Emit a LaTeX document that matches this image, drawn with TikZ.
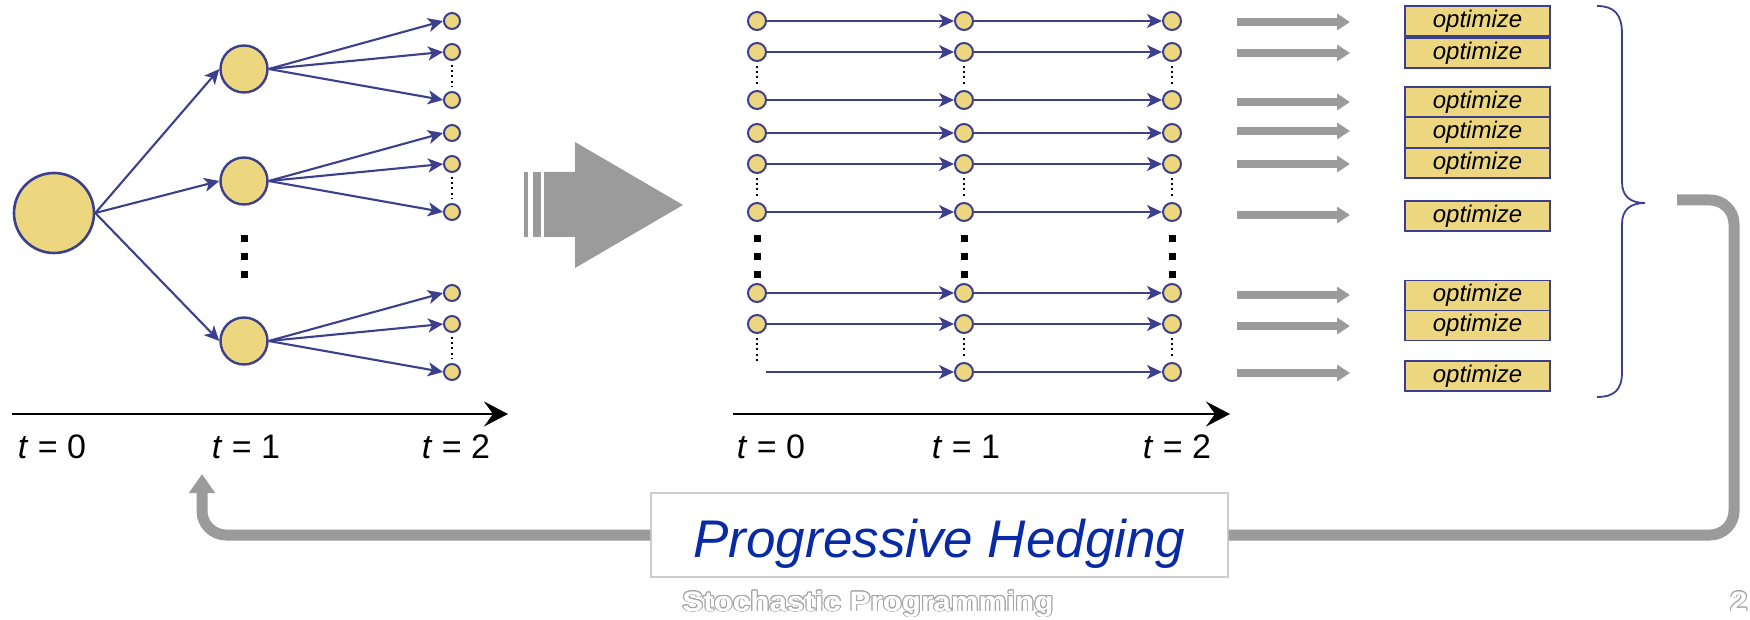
\documentclass[tikz,border=0pt]{standalone}
\usepackage{fontspec}
\setmainfont{Liberation Sans}
\usepackage[copies]{contour}
\contourlength{0.9pt}
\usetikzlibrary{arrows.meta}
\definecolor{nfill}{RGB}{236,215,128}
\definecolor{nblue}{RGB}{60,64,140}
\definecolor{agray}{RGB}{155,155,155}
\definecolor{phblue}{RGB}{8,42,165}
\definecolor{bgray}{RGB}{205,205,205}
\definecolor{ftgray}{RGB}{165,165,165}
\tikzset{
  nd/.style={circle, fill=nfill, draw=nblue, line width=2pt, inner sep=0pt},
  rootnd/.style={nd, minimum size=80pt, line width=2.6pt},
  midnd/.style={nd, minimum size=47pt, line width=2.4pt},
  leafnd/.style={nd, minimum size=16pt},
  scnd/.style={nd, minimum size=18pt},
  tarrow/.style={draw=nblue, line width=2.1pt, -{Stealth[length=15pt,width=14pt,inset=4pt]}},
  dotv/.style={draw=black, line width=1.6pt, dash pattern=on 2pt off 3.2pt, shorten <=4pt, shorten >=4pt},
  sqd/.style={rectangle, fill=black, inner sep=0pt, minimum size=7pt},
  axisline/.style={draw=black, line width=2pt, -{Stealth[length=24pt,width=25pt,inset=9pt]}},
  tlab/.style={anchor=base, inner sep=0pt, font=\fontsize{34}{34}\selectfont},
  optbox/.style={rectangle, fill=nfill, draw=nblue, line width=1.1pt, minimum width=145pt, minimum height=30pt, inner sep=0pt, font=\fontsize{24}{24}\selectfont\itshape},
  garrow/.style={draw=agray, line width=8pt, -{Triangle[length=13pt,width=16pt]}},
  fbline/.style={draw=agray, line width=11pt, rounded corners=24pt},
  fbarrow/.style={fbline, -{Triangle[length=19pt,width=25pt]}},
  phbox/.style={rectangle, draw=bgray, fill=white, line width=1.2pt, minimum width=577pt, minimum height=84pt, inner sep=0pt},
  phtext/.style={anchor=base, inner sep=0pt, text=phblue, font=\fontsize{53}{53}\selectfont\itshape},
  foot/.style={inner sep=0pt, font=\fontsize{28}{28}\selectfont\bfseries}
}
\begin{document}
\begin{tikzpicture}[x=1pt,y=-1pt]
\useasboundingbox (0,0) rectangle (1750,620);
% ---------- scenario tree ----------
\node[rootnd] (r) at (54,213) {};
\node[midnd] (m1) at (244,69) {};
\node[midnd] (m2) at (244,181) {};
\node[midnd] (m3) at (244,341) {};
\foreach \i/\y in {1/21,2/52,3/100,4/133,5/164,6/212,7/293,8/324,9/372}
  \node[leafnd] (l\i) at (452,\y) {};
\foreach \m in {1,2,3} \draw[tarrow] (r.east) -- (m\m.west);
\foreach \m/\i in {1/1,1/2,1/3,2/4,2/5,2/6,3/7,3/8,3/9}
  \draw[tarrow] (m\m.east) -- (l\i.west);
\foreach \a/\b in {2/3,5/6,8/9} \draw[dotv] (l\a.south) -- (l\b.north);
\foreach \x in {244,757,964,1172}
  \foreach \y in {239,257,275}
    \node[sqd] (q\x-\y) at (\x,\y) {};
% axis 1
\coordinate (ax1s) at (12,414);
\coordinate (ax1e) at (508,414);
\draw[axisline] (ax1s) -- (ax1e);
\node[tlab] (t10) at (52,458) {\textit{t} = 0};
\node[tlab] (t11) at (246,458) {\textit{t} = 1};
\node[tlab] (t12) at (456,458) {\textit{t} = 2};
% ---------- big block arrow ----------
\fill[agray] (544,172) -- (575,172) -- (575,142) -- (683,205) -- (575,268) -- (575,237) -- (544,237) -- cycle;
\fill[agray] (524,172) rectangle (528,237);
\fill[agray] (533,172) rectangle (541,237);
% ---------- scenarios ----------
\foreach \i/\y in {1/21,2/52,3/100,4/133,5/164,6/212,7/293,8/324}
  \node[scnd] (a\i) at (757,\y) {};
\coordinate (a9) at (766,372);
\coordinate (a9d) at (757,366);
\foreach \i/\y in {1/21,2/52,3/100,4/133,5/164,6/212,7/293,8/324,9/372}{
  \node[scnd] (b\i) at (964,\y) {};
  \node[scnd] (c\i) at (1172,\y) {};
}
\foreach \i in {1,...,8} \draw[tarrow] (a\i.east) -- (b\i.west);
\draw[tarrow] (a9) -- (b9.west);
\foreach \i in {1,...,9} \draw[tarrow] (b\i.east) -- (c\i.west);
\foreach \p/\q in {2/3,5/6}{
  \draw[dotv] (a\p.south) -- (a\q.north);
  \draw[dotv] (b\p.south) -- (b\q.north);
  \draw[dotv] (c\p.south) -- (c\q.north);
}
\draw[dotv] (a8.south) -- (a9d);
\draw[dotv] (b8.south) -- (b9.north);
\draw[dotv] (c8.south) -- (c9.north);
% axis 2
\coordinate (ax2s) at (733,414);
\coordinate (ax2e) at (1230,414);
\draw[axisline] (ax2s) -- (ax2e);
\node[tlab] (t20) at (771,458) {\textit{t} = 0};
\node[tlab] (t21) at (966,458) {\textit{t} = 1};
\node[tlab] (t22) at (1177,458) {\textit{t} = 2};
% ---------- gray arrows and optimize boxes ----------
\foreach \i/\y in {1/22,2/53,3/102,4/131,5/164,6/215,7/295,8/326,9/373}{
  \coordinate (gs\i) at (1237,\y);
  \coordinate (ge\i) at (1350,\y);
  \draw[garrow] (gs\i) -- (ge\i);
}
\foreach \i/\y in {1/21,2/53,3/102,4/132.5,5/163,6/216,7/295.5,8/325.5,9/376}
  \node[optbox] (o\i) at (1477.5,\y) {optimize};
% brace
\draw[nblue, line width=1.8pt]
  (1597,6) .. controls (1614,6) and (1622,14) .. (1622,34)
  -- (1622,182) .. controls (1622,196) and (1630,203) .. (1645,203)
  .. controls (1630,203) and (1622,210) .. (1622,224)
  -- (1622,372) .. controls (1622,390) and (1614,397) .. (1597,397);
% ---------- feedback loop ----------
\node[phbox] (ph) at (939.5,535) {};
\coordinate (fbs) at (1677,200);
\coordinate (fbe) at (202,474);
\draw[fbline] (fbs) -- (1734,200) -- (1734,535) -- (ph.east);
\draw[fbarrow] (ph.west) -- (202,535) -- (fbe);
\node[phtext] (phl) at (939.5,557) {Progressive Hedging};
% footer
\node[foot, anchor=base] (ft) at (868,611) {\color{white}\scalebox{1.12}[1]{\contour{ftgray}{Stochastic Programming}}};
\node[foot, anchor=base west] (pg) at (1730,611) {\color{white}\scalebox{1.12}[1]{\contour{ftgray}{2}}};
\end{tikzpicture}
\end{document}
